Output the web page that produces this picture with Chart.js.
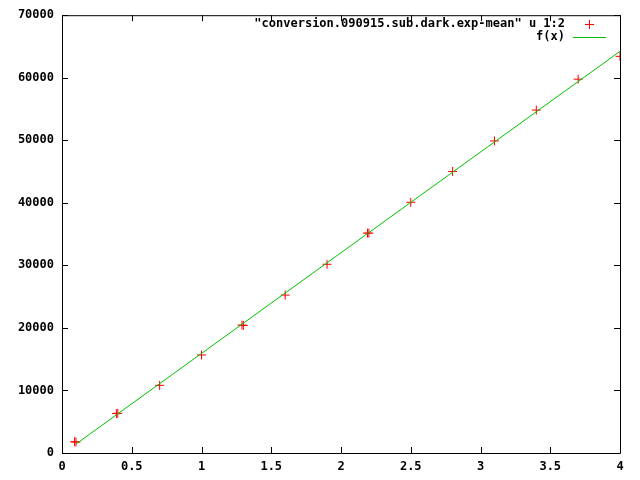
<!DOCTYPE html>
<html>
<head>
<meta charset="utf-8">
<script src="https://cdn.jsdelivr.net/npm/chart.js@4/dist/chart.umd.min.js"></script>
<style>
  html, body { margin: 0; padding: 0; background: #fff; }
  #wrap { width: 640px; height: 480px; }
</style>
</head>
<body>
<div id="wrap"><canvas id="chart" width="640" height="480"></canvas></div>
<script>
// measured points (some are doubled in the plot)
var xs = [0.09, 0.1, 0.39, 0.4, 0.7, 1.0, 1.29, 1.3, 1.6, 1.9, 2.19, 2.2, 2.5, 2.8, 3.1, 3.4, 3.7, 4.0];
var ys = [1800, 1750, 6300, 6350, 10820, 15670, 20450, 20400, 25250, 30170, 35150, 35160, 40090, 45020, 49900, 54830, 59770, 63420];

// fitted line f(x), end points
var fitX = [0.1, 4.0];
var fitY = [1430, 64220];

var xTicks = [0, 0.5, 1, 1.5, 2, 2.5, 3, 3.5, 4];
var yTicks = [0, 10000, 20000, 30000, 40000, 50000, 60000, 70000];

var dataLabel = '"conversion.090915.sub.dark.exp-mean" u 1:2';
var fitLabel = 'f(x)';

var FONT = 'bold 12px "DejaVu Sans Mono", monospace';

function pts(a, b) {
  return a.map(function(v, i) { return { x: v, y: b[i] }; });
}

// box + inward ticks + gnuplot style key
var gnuplotFrame = {
  id: 'gnuplotFrame',
  afterDatasetsDraw: function(chart) {
    var c = chart.ctx, a = chart.chartArea;
    var sx = chart.scales.x, sy = chart.scales.y;
    c.save();
    c.strokeStyle = '#000';
    c.lineWidth = 1;
    c.beginPath();
    c.rect(a.left + 0.5, a.top + 0.5, a.right - a.left, a.bottom - a.top);
    xTicks.forEach(function(t) {
      var px = Math.round(sx.getPixelForValue(t)) + 0.5;
      c.moveTo(px, a.bottom); c.lineTo(px, a.bottom - 6);
      c.moveTo(px, a.top); c.lineTo(px, a.top + 6);
    });
    yTicks.forEach(function(t) {
      var py = Math.round(sy.getPixelForValue(t)) + 0.5;
      c.moveTo(a.left, py); c.lineTo(a.left + 6, py);
      c.moveTo(a.right, py); c.lineTo(a.right - 6, py);
    });
    c.stroke();

    // key
    c.font = FONT;
    c.fillStyle = '#000';
    c.textAlign = 'right';
    c.textBaseline = 'middle';
    c.fillText(dataLabel, 565, 24);
    c.fillText(fitLabel, 565, 37);
    c.strokeStyle = '#ff0000';
    c.beginPath();
    c.moveTo(585, 24.5); c.lineTo(594, 24.5);
    c.moveTo(589.5, 20); c.lineTo(589.5, 29);
    c.stroke();
    c.strokeStyle = '#00c000';
    c.beginPath();
    c.moveTo(573, 37.5); c.lineTo(606, 37.5);
    c.stroke();
    c.restore();
  }
};

var ctx = document.getElementById('chart').getContext('2d');
var chart = new Chart(ctx, {
  type: 'scatter',
  data: {
    datasets: [{
      label: dataLabel,
      data: pts(xs, ys),
      showLine: false,
      pointStyle: 'cross',
      pointRadius: 4.5,
      pointBorderWidth: 1,
      borderColor: '#ff0000',
      backgroundColor: '#ff0000',
      order: 2
    },
    {
      label: fitLabel,
      data: pts(fitX, fitY),
      showLine: true,
      pointRadius: 0,
      borderWidth: 1,
      borderColor: '#00c000',
      backgroundColor: '#00c000',
      order: 1
    }]
  },
  options: {
    responsive: false,
    animation: false,
    events: [],
    layout: { padding: { top: 13, right: 20, left: 0, bottom: 0 } },
    plugins: { legend: { display: false }, tooltip: { enabled: false } },
    scales: {
      x: {
        type: 'linear', min: 0, max: 4,
        afterBuildTicks: function(s) { s.ticks = xTicks.map(function(v) { return { value: v }; }); },
        afterFit: function(s) { s.height = 27; },
        grid: { display: true, drawOnChartArea: false, drawTicks: false },
        border: { display: false },
        ticks: { color: '#000', padding: 7, maxRotation: 0, autoSkip: false,
                 callback: function(v) { return String(v); },
                 font: { family: '"DejaVu Sans Mono", monospace', size: 12, weight: 'bold' } }
      },
      y: {
        type: 'linear', min: 0, max: 70000,
        afterBuildTicks: function(s) { s.ticks = yTicks.map(function(v) { return { value: v }; }); },
        afterFit: function(s) { s.width = 62; },
        grid: { display: true, drawOnChartArea: false, drawTicks: false },
        border: { display: false },
        ticks: { color: '#000', padding: 8, autoSkip: false,
                 callback: function(v) { return String(v); },
                 font: { family: '"DejaVu Sans Mono", monospace', size: 12, weight: 'bold' } }
      }
    }
  },
  plugins: [gnuplotFrame]
});
</script>
</body>
</html>
